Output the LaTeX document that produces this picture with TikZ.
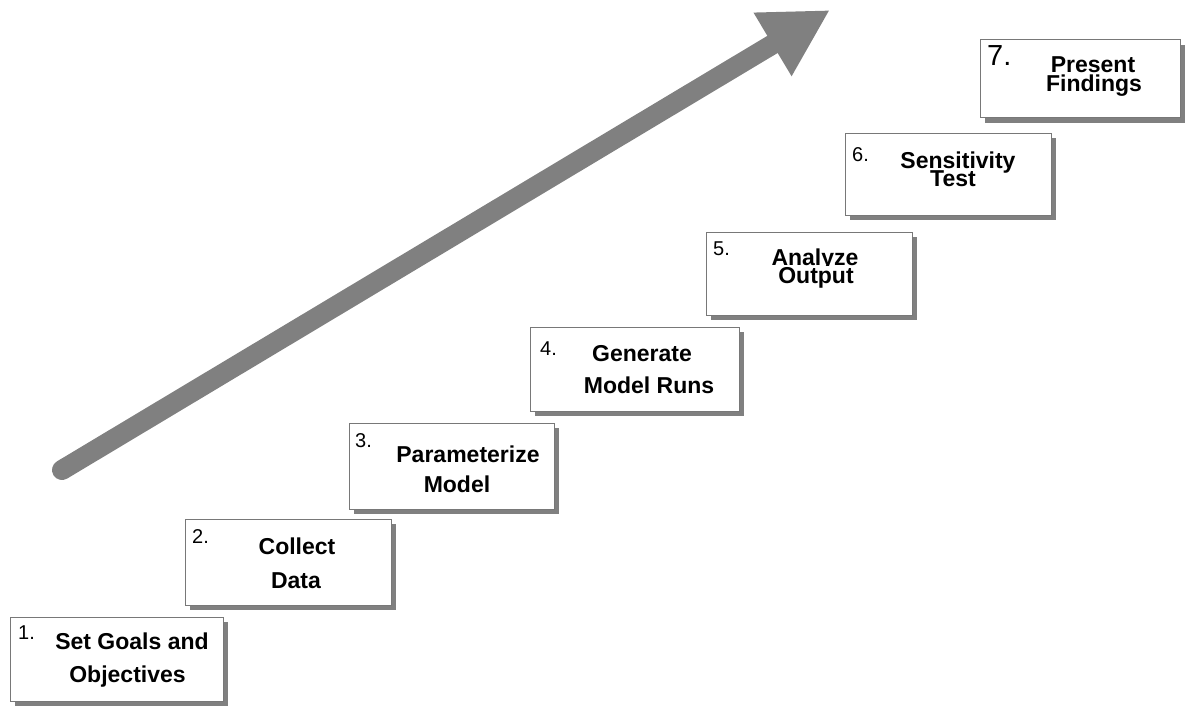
\documentclass[tikz,border=0pt]{standalone}
\usepackage{fontspec}
\setmainfont{Liberation Sans}
\usetikzlibrary{arrows.meta}
\definecolor{shadowgray}{RGB}{128,128,128}
\definecolor{edgegray}{RGB}{120,120,120}
\tikzset{
  stepbox/.style={draw=edgegray, line width=1pt, fill=white},
  boxshadow/.style={fill=shadowgray, draw=none},
  numlbl/.style={anchor=base west, inner sep=0pt, font=\fontsize{#1}{#1}\selectfont},
  steptext/.style={anchor=base, inner sep=0pt, font=\fontsize{23}{23}\selectfont\bfseries},
  tighttext/.style={steptext, fill=white, text height=17pt, text depth=5pt},
}
\newcommand{\stepfrm}[5]{% name, x1, y1, x2, y2
  \fill[boxshadow] (#2+5,#3+5) rectangle (#4+5,#5+5);
  \draw[stepbox] (#2,#3) rectangle (#4,#5);
  \coordinate (#1) at ({(#2+#4)/2},{(#3+#5)/2});
}
\begin{document}
\begin{tikzpicture}[x=1pt,y=-1pt]
\useasboundingbox (0,0) rectangle (1185,706);

% arrow
\coordinate (astart) at (62,470);
\coordinate (atip) at (830,10);
\draw[draw=shadowgray, fill=shadowgray, line width=20pt, line cap=round,
      -{Triangle[length=67pt,width=69pt]}] (astart) -- (atip);

% boxes
\stepfrm{b1}{10}{617}{223}{701}
\stepfrm{b2}{185}{519}{391}{605}
\stepfrm{b3}{349}{423}{554}{509}
\stepfrm{b4}{530}{327}{739}{411}
\stepfrm{b5}{706}{232}{912}{315}
\stepfrm{b6}{845}{133}{1051}{215}
\stepfrm{b7}{980}{40}{1180}{118}

% numbers
\node[numlbl=20] (n1) at (18,639) {1.};
\node[numlbl=20] (n2) at (192,543) {2.};
\node[numlbl=20] (n3) at (355,447) {3.};
\node[numlbl=20] (n4) at (540,355) {4.};
\node[numlbl=20] (n5) at (713,255) {5.};
\node[numlbl=20] (n6) at (852,161) {6.};
\node[numlbl=29] (n7) at (987,66) {7.};

% texts
\node[steptext] (t1a) at (132,649) {Set Goals and};
\node[steptext] (t1b) at (127.5,682) {Objectives};
\node[steptext] (t2a) at (297,554) {Collect};
\node[steptext] (t2b) at (296,588) {Data};
\node[steptext] (t3a) at (468,462) {Parameterize};
\node[steptext] (t3b) at (457,492) {Model};
\node[steptext] (t4a) at (642,361) {Generate};
\node[steptext] (t4b) at (649,393) {Model Runs};
\node[steptext] (t5a) at (815,265) {Analyze};
\node[tighttext] (t5b) at (816,283) {Output};
\node[steptext] (t6a) at (958,168) {Sensitivity};
\node[tighttext] (t6b) at (953,186) {Test};
\node[steptext] (t7a) at (1093,73) {Present};
\node[tighttext] (t7b) at (1094,92) {Findings};
\end{tikzpicture}
\end{document}
